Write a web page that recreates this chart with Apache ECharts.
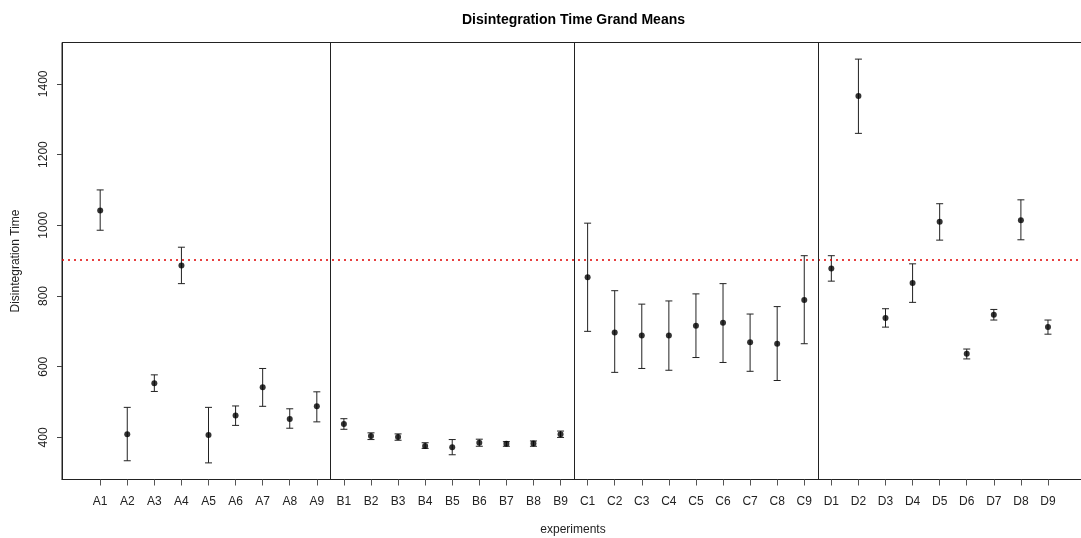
<!DOCTYPE html>
<html>
<head>
<meta charset="utf-8">
<script src="https://cdn.jsdelivr.net/npm/echarts@6/dist/echarts.min.js"></script>
<style>
  html, body { margin: 0; padding: 0; background: #fff; overflow: hidden; }
  #chart { width: 1092px; height: 538px; }
</style>
</head>
<body>
<div id="chart"></div>
<script>
// Experiment labels, one per formulation run
const experiments = [
  'A1','A2','A3','A4','A5','A6','A7','A8','A9',
  'B1','B2','B3','B4','B5','B6','B7','B8','B9',
  'C1','C2','C3','C4','C5','C6','C7','C8','C9',
  'D1','D2','D3','D4','D5','D6','D7','D8','D9'
];

// Grand mean of disintegration time per experiment
const means = [
  1042, 409, 553, 886, 407, 462, 542, 452, 488,
  438, 404, 401, 376, 372, 385, 382, 383, 409,
  853, 697, 688, 688, 716, 724, 669, 665, 789,
  878, 1366, 738, 837, 1010, 637, 747, 1014, 712
];

// Upper and lower interval limits
const upper = [
  1100, 485, 577, 938, 485, 489, 595, 481, 529,
  453, 413, 410, 385, 394, 395, 388, 390, 418,
  1006, 815, 777, 786, 806, 835, 749, 770, 914,
  914, 1470, 764, 891, 1061, 650, 762, 1072, 732
];
const lower = [
  986, 334, 530, 835, 328, 434, 488, 426, 444,
  423, 394, 392, 369, 351, 375, 375, 375, 400,
  700, 584, 595, 590, 626, 612, 587, 561, 665,
  842, 1260, 712, 782, 958, 622, 732, 959, 692
];

// Overall grand mean (reference line) and group boundaries
const overallMean = 903;
const groupBreaks = [8.5, 17.5, 26.5];
const yTicks = [400, 600, 800, 1000, 1200, 1400];

const idx = experiments.map((_, i) => i);
const pointData = means.map((m, i) => [i, m]);
const barData = means.map((m, i) => [i, lower[i], upper[i]]);

const chart = echarts.init(document.getElementById('chart'), null, { renderer: 'canvas' });
const FONT = 'Liberation Sans, Arial, sans-serif';

chart.setOption({
  animation: false,
  backgroundColor: '#ffffff',
  title: {
    text: 'Disintegration Time Grand Means',
    left: 457, top: 8,
    textStyle: { fontFamily: FONT, fontSize: 14, fontWeight: 'bold', color: '#000' }
  },
  grid: {
    left: 62, top: 42.5, width: 1022, height: 437,
    outerBoundsMode: 'none', containLabel: false,
    show: true, borderColor: '#222', borderWidth: 1, backgroundColor: 'transparent'
  },
  xAxis: {
    type: 'value', min: -1.41, max: 36.33,
    name: 'experiments', nameLocation: 'middle', nameGap: 44,
    nameTextStyle: { fontFamily: FONT, fontSize: 12, color: '#222' },
    splitLine: { show: false },
    axisLine: { show: true, onZero: false, lineStyle: { color: '#222' } },
    axisTick: { show: true, length: 6, customValues: idx, lineStyle: { color: '#555' } },
    axisLabel: {
      customValues: idx, margin: 16,
      fontFamily: FONT, fontSize: 12, color: '#222',
      formatter: v => experiments[Math.round(v)]
    }
  },
  yAxis: {
    type: 'value', min: 281, max: 1517,
    name: 'Disintegration Time', nameLocation: 'middle', nameGap: 40,
    nameTextStyle: { fontFamily: FONT, fontSize: 12, color: '#222' },
    splitLine: { show: false },
    axisLine: { show: true, onZero: false, lineStyle: { color: '#222' } },
    axisTick: { show: true, length: 5, customValues: yTicks, lineStyle: { color: '#444' } },
    axisLabel: {
      customValues: yTicks, rotate: 90, margin: 12,
      fontFamily: FONT, fontSize: 12, color: '#222',
      formatter: v => String(v)
    }
  },
  series: [
    {
      type: 'custom',
      data: barData,
      renderItem: function (params, api) {
        const x = api.value(0);
        const lo = api.coord([x, api.value(1)]);
        const hi = api.coord([x, api.value(2)]);
        const cap = 3.5;
        const st = { stroke: '#222', lineWidth: 1 };
        return {
          type: 'group',
          children: [
            { type: 'line', shape: { x1: lo[0], y1: lo[1], x2: hi[0], y2: hi[1] }, style: st },
            { type: 'line', shape: { x1: hi[0] - cap, y1: hi[1], x2: hi[0] + cap, y2: hi[1] }, style: st },
            { type: 'line', shape: { x1: lo[0] - cap, y1: lo[1], x2: lo[0] + cap, y2: lo[1] }, style: st }
          ]
        };
      },
      z: 2
    },
    {
      type: 'scatter',
      data: pointData,
      symbol: 'circle',
      symbolSize: 6,
      itemStyle: { color: '#000' },
      z: 3,
      markLine: {
        silent: true,
        symbol: ['none', 'none'],
        label: { show: false },
        data: [
          { yAxis: overallMean, lineStyle: { color: '#e00000', type: [2, 4], width: 1.5 } },
          ...groupBreaks.map(b => ({ xAxis: b, lineStyle: { color: '#222', type: 'solid', width: 1 } }))
        ]
      }
    }
  ]
});
</script>
</body>
</html>
